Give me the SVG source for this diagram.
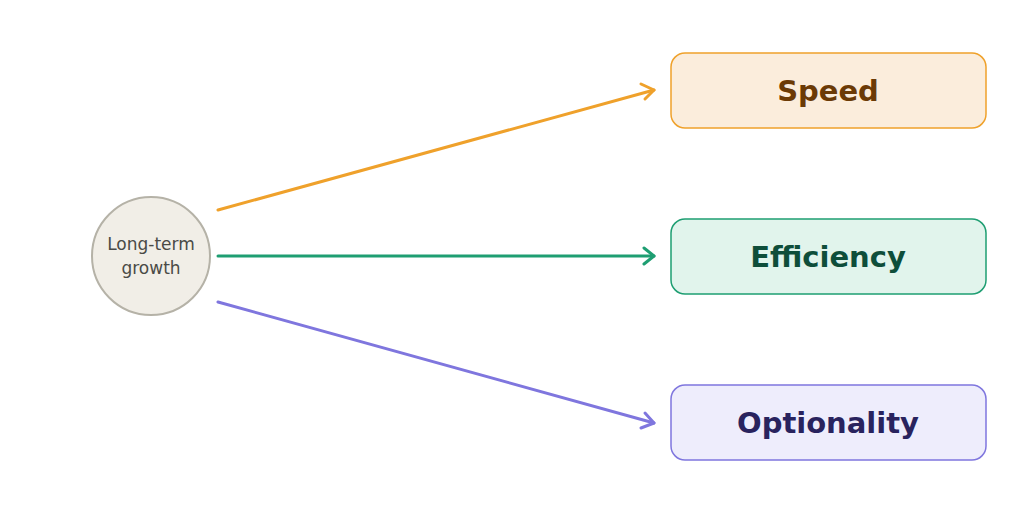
<svg xmlns="http://www.w3.org/2000/svg" width="1024" height="512" viewBox="0 0 1024 512">
<style>
.lbl{font-family:"DejaVu Sans",sans-serif;font-weight:bold;font-size:29px;text-anchor:middle}
.c{fill:none;stroke-width:3;stroke-linecap:round}
.h{fill:none;stroke-width:3;stroke-linecap:round;stroke-linejoin:round}
</style>
<rect width="1024" height="512" fill="#fff"/>
<g id="connectors">
<line class="c" x1="218" y1="210" x2="654" y2="90" stroke="#EFA12B"/>
<polyline class="h" points="641,84 654,90 645,99" stroke="#EFA12B"/>
<line class="c" x1="218" y1="256" x2="654" y2="256" stroke="#1E9E72"/>
<polyline class="h" points="644,248 654,256 644,264" stroke="#1E9E72"/>
<line class="c" x1="218" y1="302" x2="654" y2="423" stroke="#7F76DE"/>
<polyline class="h" points="645,413 654,423 641,428" stroke="#7F76DE"/>
</g>
<g id="growth">
<circle cx="151" cy="256" r="59" fill="#F1EEE7" stroke="#B5B2A7" stroke-width="2"/>
<text x="151" y="250" font-family="DejaVu Sans,sans-serif" font-size="17" fill="#4A4A46" text-anchor="middle">Long-term</text>
<text x="151" y="274" font-family="DejaVu Sans,sans-serif" font-size="17" fill="#4A4A46" text-anchor="middle">growth</text>
</g>
<g id="speed">
<rect x="671" y="53" width="315" height="75" rx="14" fill="#FBEDDC" stroke="#EFA12B" stroke-width="1.5"/>
<text class="lbl" x="828" y="101" fill="#6B3A06">Speed</text>
</g>
<g id="efficiency">
<rect x="671" y="219" width="315" height="75" rx="14" fill="#E1F4EC" stroke="#1E9E72" stroke-width="1.5"/>
<text class="lbl" x="828" y="267" fill="#0E4E3A">Efficiency</text>
</g>
<g id="optionality">
<rect x="671" y="385" width="315" height="75" rx="14" fill="#EEEDFC" stroke="#7F76DE" stroke-width="1.5"/>
<text class="lbl" x="828" y="433" fill="#29235E">Optionality</text>
</g>
</svg>
